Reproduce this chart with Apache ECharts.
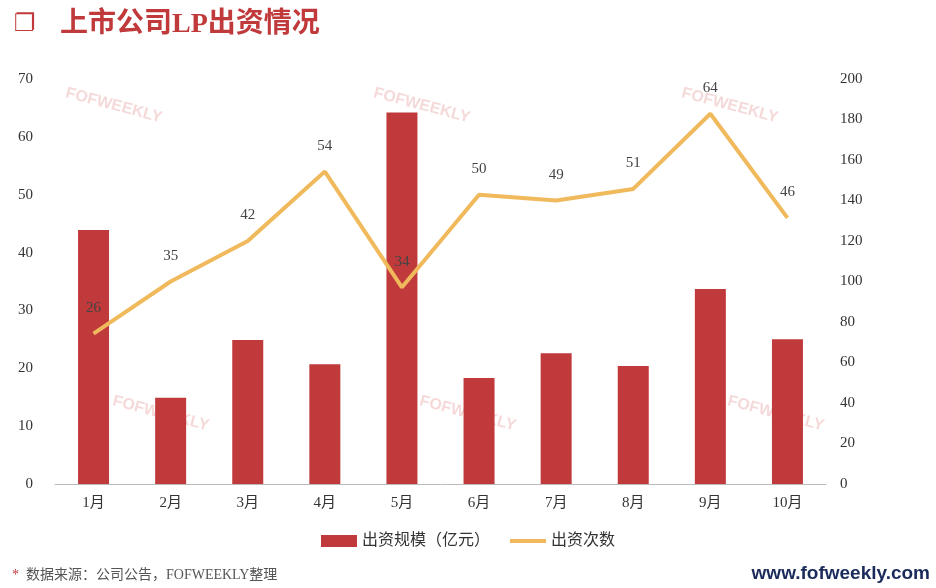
<!DOCTYPE html>
<html><head><meta charset="utf-8">
<script src="https://cdn.jsdelivr.net/npm/echarts@6/dist/echarts.min.js"></script>
<style>html,body{margin:0;padding:0;background:#fff}#c{width:936px;height:588px}</style>
</head><body><div id="c"></div>
<script>
const categories=['1月','2月','3月','4月','5月','6月','7月','8月','9月','10月'];
const scaleValues=[43.9,14.9,24.9,20.7,64.2,18.3,22.6,20.4,33.7,25.0];
const countValues=[26,35,42,54,34,50,49,51,64,46];
const leftTicks={min:0,max:70,interval:10};
const rightTicks={min:0,max:200,interval:20};
const FF='"Liberation Serif","Noto Sans CJK SC"';
const wm=(x,y)=>({type:'text',x:x,y:y,rotation:-0.26,style:{text:'FOFWEEKLY',fill:'rgba(220,120,120,0.28)',font:'bold 16px "Liberation Sans"'}});
const chart=echarts.init(document.getElementById('c'));
chart.setOption({
 animation:false,
 textStyle:{fontFamily:FF},
 graphic:[
  {type:'text',left:14,top:13,style:{text:'❐',fill:'#c0393b',font:'bold 24px "DejaVu Sans"'}},
  {type:'text',left:60,top:11,style:{text:'上市公司LP出资情况',fill:'#c0393b',font:'bold 28px '+FF}},
  {type:'text',left:12,top:568,style:{rich:{a:{fill:'#c0393b',fontSize:14,fontFamily:FF},b:{fill:'#555',fontSize:14,fontFamily:FF}},text:'{a|*}  {b|数据来源：公司公告，FOFWEEKLY整理}',font:'14px '+FF}},
  {type:'text',right:6,top:564,style:{text:'www.fofweekly.com',fill:'#1a2a5a',font:'bold 19px "Liberation Sans"'}},
  wm(68,85),wm(376,85),wm(684,85),wm(115,393),wm(422,393),wm(730,393)
 ],
 legend:{bottom:34,itemGap:20,itemWidth:36,itemHeight:12,textStyle:{fontSize:16,color:'#333'},
  data:[{name:'出资规模（亿元）',icon:'rect'},{name:'出资次数',icon:'path://M0,0H36V4H0Z'}]},
 grid:{left:55,right:110,top:79,bottom:104},
 xAxis:{type:'category',data:categories,axisTick:{show:false},axisLine:{lineStyle:{color:'#bbb'}},axisLabel:{color:'#333',fontSize:15,margin:12}},
 yAxis:[
  {type:'value',...leftTicks,splitLine:{show:false},axisLabel:{color:'#333',fontSize:15,margin:22}},
  {type:'value',...rightTicks,splitLine:{show:false},axisLabel:{color:'#333',fontSize:15,margin:14}}
 ],
 series:[
  {name:'出资规模（亿元）',type:'bar',data:scaleValues,barWidth:31,itemStyle:{color:'#c0393b'}},
  {name:'出资次数',type:'line',data:countValues,symbol:'circle',symbolSize:0.1,showSymbol:true,lineStyle:{color:'#f0b95c',width:4},itemStyle:{color:'#f0b95c'},
   label:{show:true,position:'top',distance:18,color:'#444',fontSize:15}}
 ]
});
</script></body></html>
